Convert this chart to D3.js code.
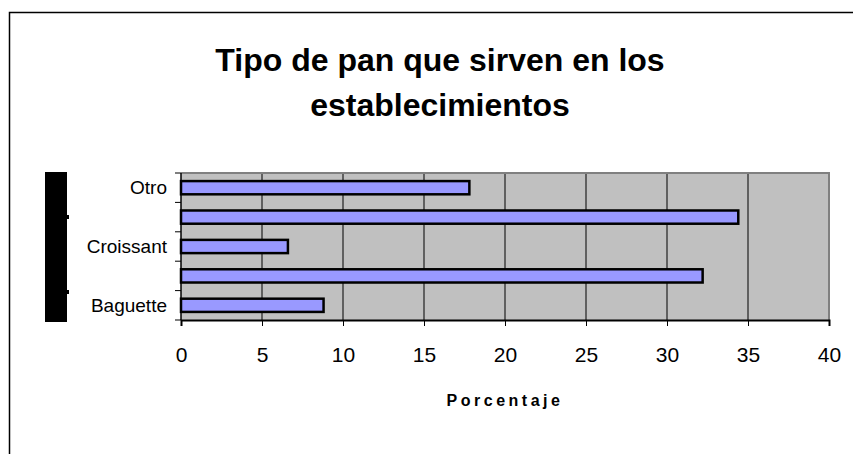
<!DOCTYPE html>
<html>
<head>
<meta charset="utf-8">
<script src="https://cdn.jsdelivr.net/npm/d3@7"></script>
<style>
  body { margin: 0; background: #fff; }
  text { font-family: "Liberation Sans", Arial, sans-serif; }
</style>
</head>
<body>
<div id="chart"></div>
<script>
// bottom to top
const categories = ["Baguette", "", "Croissant", "", "Otro"];
const values = [8.8, 32.2, 6.6, 34.4, 17.8];
const xTicks = [0, 5, 10, 15, 20, 25, 30, 35, 40];
const titleLines = ["Tipo de pan que sirven en los", "establecimientos"];
const xLabel = "Porcentaje";

const width = 853;
const height = 454;
const margin = {top: 173, right: 24, bottom: 134, left: 181};

const svg = d3.select("#chart").append("svg")
    .attr("width", width)
    .attr("height", height);

// outer frame (runs off the right and bottom edge)
svg.append("rect")
    .attr("x", 9.5).attr("y", 12.5)
    .attr("width", 900).attr("height", 500)
    .attr("fill", "none").attr("stroke", "#000").attr("stroke-width", 1.5);

const x = d3.scaleLinear()
    .domain([0, 40])
    .range([margin.left, width - margin.right]);

const y = d3.scaleBand()
    .domain(d3.range(categories.length).reverse())
    .range([margin.top, height - margin.bottom])
    .paddingInner(0.55)
    .paddingOuter(0.275);

const yEdge = d3.scaleLinear()
    .domain([0, categories.length])
    .range([height - margin.bottom, margin.top]);

// plot background
svg.append("rect")
    .attr("x", x(0)).attr("y", margin.top)
    .attr("width", x(40) - x(0)).attr("height", height - margin.bottom - margin.top)
    .attr("fill", "#c0c0c0");

// vertical grid
svg.append("g")
    .selectAll("line")
    .data(xTicks.slice(1, -1))
    .join("line")
    .attr("x1", d => x(d)).attr("x2", d => x(d))
    .attr("y1", margin.top).attr("y2", height - margin.bottom)
    .attr("stroke", "#000").attr("stroke-width", 1);

// top + right frame of plot
svg.append("path")
    .attr("d", `M${x(0)},${margin.top}H${x(40)}V${height - margin.bottom}`)
    .attr("fill", "none").attr("stroke", "#808080").attr("stroke-width", 2);

// bars
svg.append("g")
    .selectAll("rect")
    .data(values)
    .join("rect")
    .attr("x", x(0))
    .attr("y", (d, i) => y(i))
    .attr("width", d => x(d) - x(0))
    .attr("height", y.bandwidth())
    .attr("fill", "#9999ff")
    .attr("stroke", "#000")
    .attr("stroke-width", 2.5);

// x axis
const xAxis = svg.append("g")
    .attr("transform", `translate(0,${height - margin.bottom})`)
    .call(d3.axisBottom(x).tickValues(xTicks).tickSize(6).tickPadding(21));
xAxis.select(".domain").attr("stroke", "#000").attr("stroke-width", 2);
xAxis.selectAll("line").attr("stroke", "#000");
xAxis.selectAll("text")
    .attr("font-size", 21)
    .attr("fill", "#000")
    .attr("font-family", "Liberation Sans, Arial, sans-serif");

// y axis: ticks on category boundaries, labels in band centres
const yAxis = svg.append("g").attr("transform", `translate(${x(0)},0)`);
yAxis.append("line")
    .attr("x1", 0).attr("x2", 0)
    .attr("y1", margin.top).attr("y2", height - margin.bottom)
    .attr("stroke", "#000").attr("stroke-width", 1.5);
yAxis.selectAll(".tk")
    .data(d3.range(categories.length + 1))
    .join("line")
    .attr("class", "tk")
    .attr("x1", -6).attr("x2", 0)
    .attr("y1", d => yEdge(d)).attr("y2", d => yEdge(d))
    .attr("stroke", "#000");
yAxis.selectAll("text")
    .data(categories)
    .join("text")
    .attr("x", -14)
    .attr("y", (d, i) => y(i) + y.bandwidth() / 2)
    .attr("dy", "0.35em")
    .attr("text-anchor", "end")
    .attr("font-size", 19)
    .text(d => d);

// black block where the y-axis title sits
svg.append("rect")
    .attr("x", 45).attr("y", 172)
    .attr("width", 22).attr("height", 150)
    .attr("fill", "#000");
svg.append("g")
    .selectAll("rect")
    .data([217, 292])
    .join("rect")
    .attr("x", 67).attr("y", d => d - 2)
    .attr("width", 2).attr("height", 4)
    .attr("fill", "#000");

// axis title
svg.append("text")
    .attr("x", 505).attr("y", 406)
    .attr("text-anchor", "middle")
    .attr("font-size", 16)
    .attr("font-weight", "bold")
    .attr("letter-spacing", 3.5)
    .text(xLabel);

// chart title
svg.append("g")
    .selectAll("text")
    .data(titleLines)
    .join("text")
    .attr("x", 440)
    .attr("y", (d, i) => 71 + i * 45)
    .attr("text-anchor", "middle")
    .attr("font-size", 32)
    .attr("font-weight", "bold")
    .text(d => d);
</script>
</body>
</html>
